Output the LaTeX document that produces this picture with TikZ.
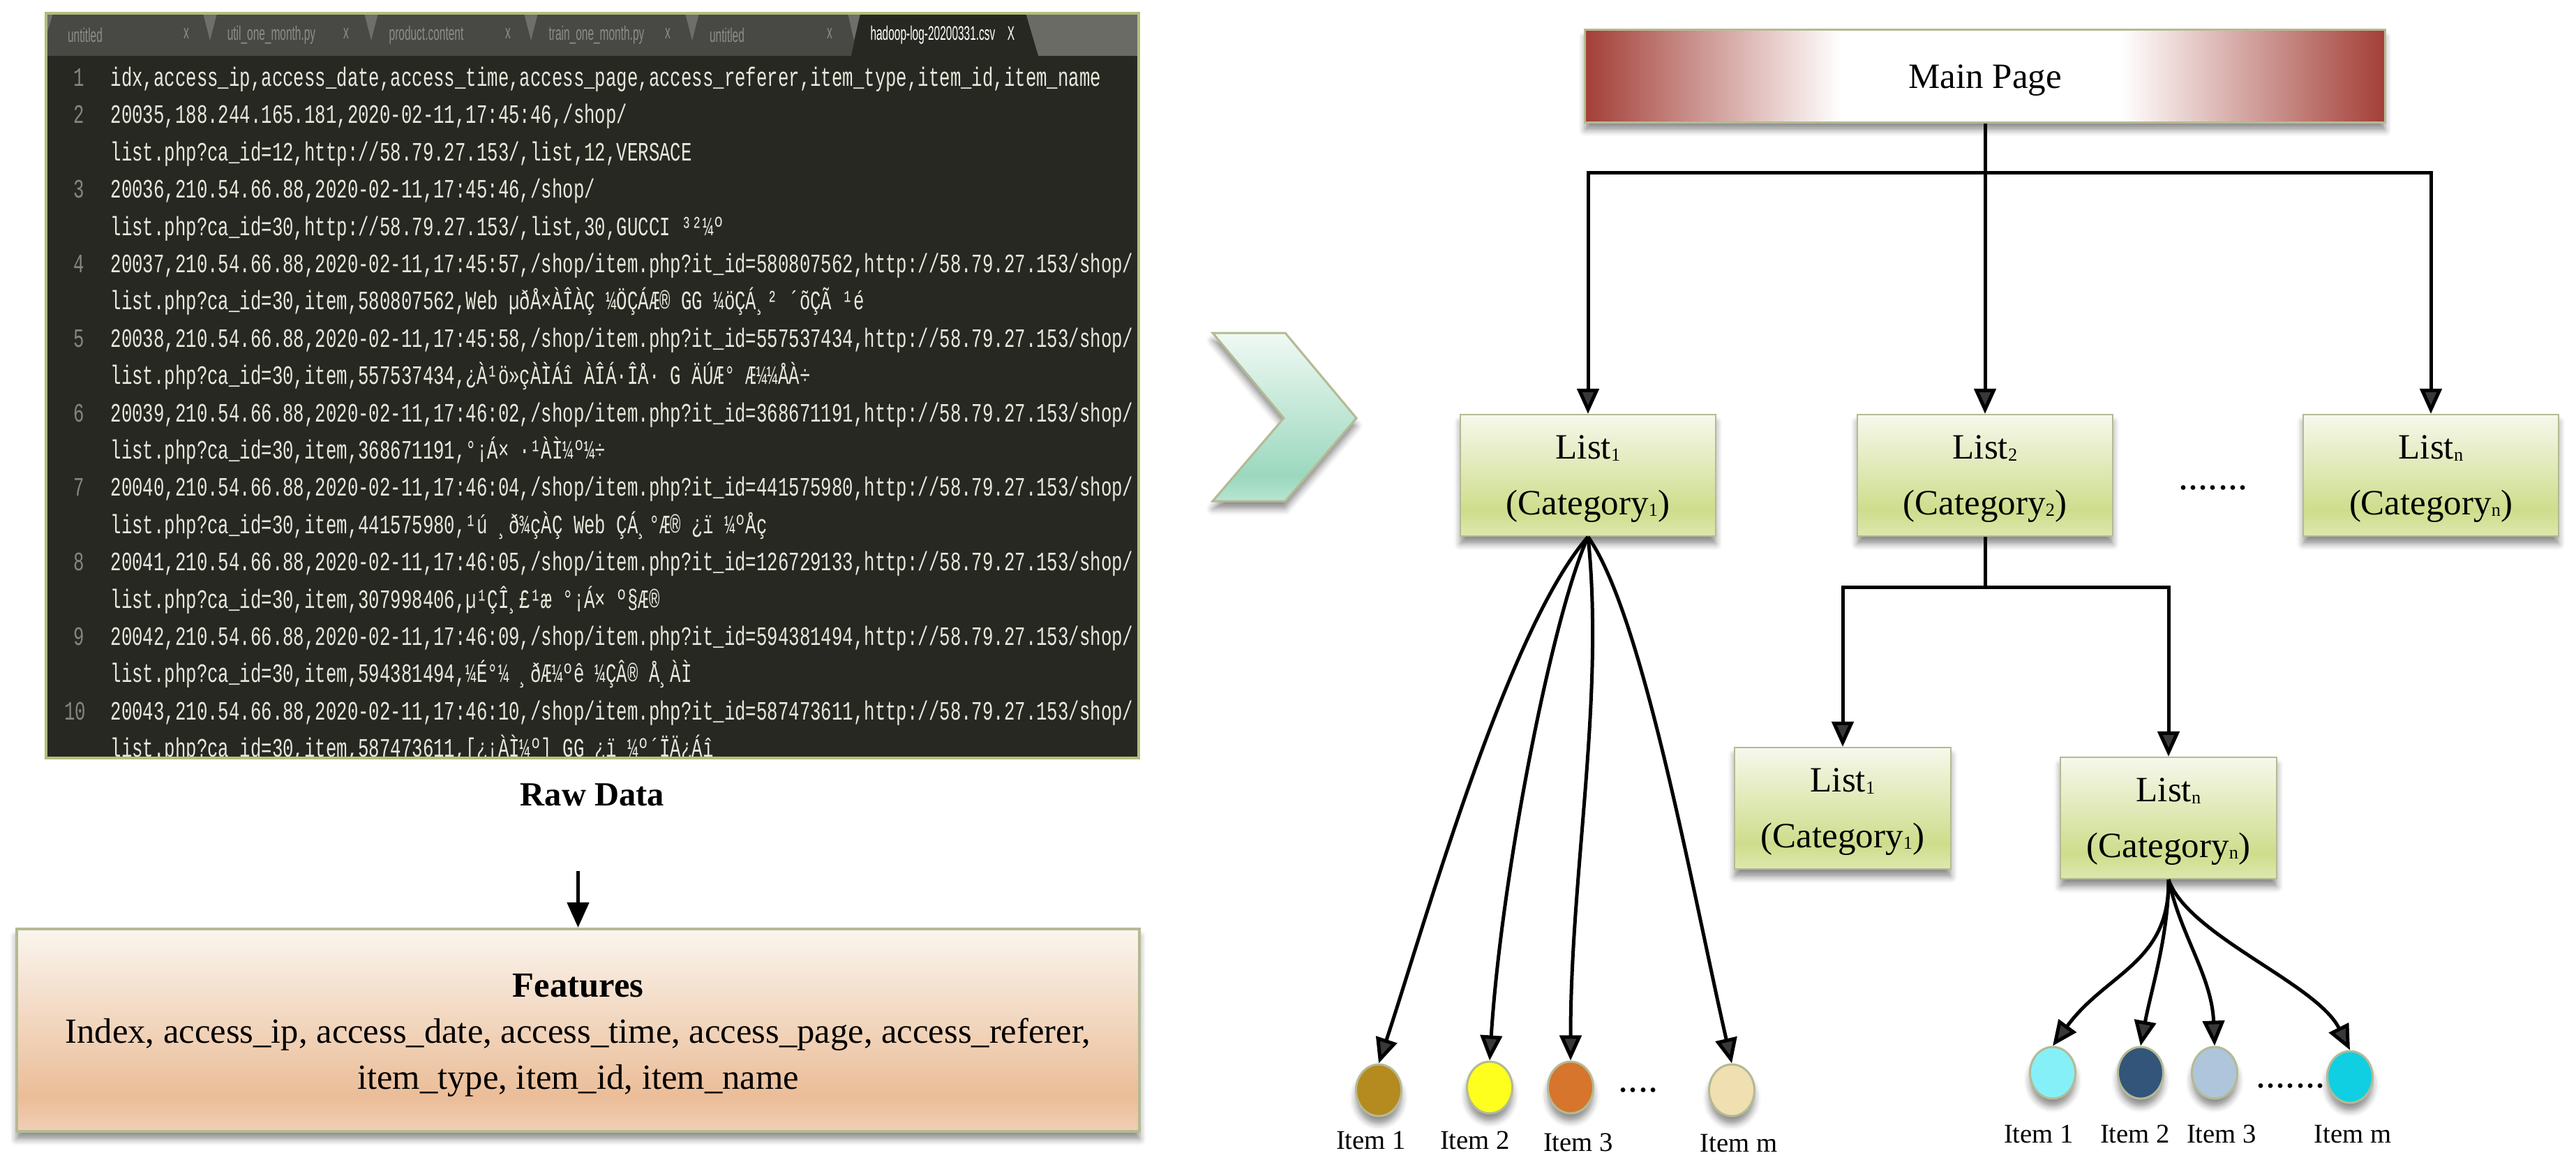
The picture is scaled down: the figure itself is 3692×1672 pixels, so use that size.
\documentclass[tikz,border=0pt]{standalone}
\usepackage{fontspec}
\setmainfont{Liberation Serif}
\newfontfamily\logfont[FakeStretch=0.677]{Liberation Mono}
\newfontfamily\tabfont[FakeStretch=0.55]{Liberation Sans}
\usetikzlibrary{arrows.meta,shapes.geometric,shadows.blur}

\definecolor{edgeolive}{HTML}{B4BA94}
\definecolor{scrframe}{HTML}{B0BD7C}
\definecolor{scrbg}{HTML}{272822}
\definecolor{scrtext}{HTML}{E8E8DC}
\definecolor{scrnum}{HTML}{85867E}
\definecolor{tabgrey}{HTML}{484845}
\definecolor{tabsep}{HTML}{6E6E6A}
\definecolor{tabrest}{HTML}{6B6B66}
\definecolor{tabtext}{HTML}{8E8E88}
\definecolor{itemA}{HTML}{B58A1E}
\definecolor{itemB}{HTML}{FFFF1E}
\definecolor{itemC}{HTML}{D6752B}
\definecolor{itemD}{HTML}{F0DFB0}
\definecolor{itemE}{HTML}{86F0F8}
\definecolor{itemF}{HTML}{33557A}
\definecolor{itemG}{HTML}{AEC5DC}
\definecolor{itemH}{HTML}{10CFE3}
\definecolor{listlow}{HTML}{DDE8AE}
\definecolor{listmid}{HTML}{CEDD8C}
\definecolor{listtop}{HTML}{F6F8EC}
\definecolor{featlow}{HTML}{F0CFB6}
\definecolor{featmid}{HTML}{EBBD98}
\definecolor{feattop}{HTML}{FAF5EE}
\definecolor{chevlow}{HTML}{B8E4D2}
\definecolor{chevmid}{HTML}{9BD8BE}
\definecolor{chevtop}{HTML}{F0F9F4}
\definecolor{mainred}{HTML}{A33F37}

\pgfdeclareverticalshading{listfade}{100bp}{color(0bp)=(listlow); color(25bp)=(listlow); color(35.5bp)=(listmid); color(75bp)=(listtop); color(100bp)=(listtop)}
\pgfdeclareverticalshading{featfade}{100bp}{color(0bp)=(featlow); color(25bp)=(featlow); color(33.5bp)=(featmid); color(75bp)=(feattop); color(100bp)=(feattop)}
\pgfdeclareverticalshading{chevfade}{100bp}{color(0bp)=(chevlow); color(25bp)=(chevlow); color(32.5bp)=(chevmid); color(75bp)=(chevtop); color(100bp)=(chevtop)}
\pgfdeclarehorizontalshading{mainfade}{100bp}{color(0bp)=(mainred); color(25bp)=(mainred); color(41bp)=(white); color(58.5bp)=(white); color(75bp)=(mainred); color(100bp)=(mainred)}

\newcommand{\boxfont}{\fontsize{14.5}{22.5}\selectfont}
\newcommand{\featfont}{\fontsize{14.4}{18.8}\selectfont}
\newcommand{\dropline}[1]{\rule{0pt}{#1}}
\newcommand{\listsub}[1]{\raisebox{-0.6pt}{\fontsize{7.5}{8}\selectfont #1}}

\tikzset{
  softshadow/.style={blur shadow={shadow xshift=0cm, shadow yshift=-0.11cm, shadow blur radius=0.09cm, shadow opacity=45}},
  flow/.style={line width=0.05cm, -{Triangle[length=0.36cm,width=0.31cm]}},
  listbox/.style={draw=edgeolive, line width=0.02cm, shading=listfade, softshadow, align=center, inner sep=0,
    font=\boxfont, minimum width=3.66cm, minimum height=1.74cm},
  sublistbox/.style={listbox, minimum width=3.1cm},
  itemdot/.style={ellipse, draw=edgeolive, line width=0.03cm, inner sep=0, softshadow,
    minimum width=0.65cm, minimum height=0.74cm},
  itemlabel/.style={font=\fontsize{11}{13}\selectfont},
  morelabel/.style={anchor=base, font=\fontsize{16}{18}\selectfont},
  logline/.style={anchor=base west, inner sep=0, text=scrtext, font=\logfont\fontsize{10.8}{12}\selectfont},
  lognum/.style={anchor=base east, inner sep=0, text=scrnum, font=\logfont\fontsize{10.8}{12}\selectfont},
  tablabel/.style={inner sep=0, text=tabtext, font=\tabfont\fontsize{8}{9}\selectfont},
}

\begin{document}
\begin{tikzpicture}[x=0.01cm, y=-0.01cm]

\useasboundingbox (0,0) rectangle (3692,1672);

% screenshot
\fill[scrbg] (66,19) rectangle (1632,1086);
\fill[tabgrey] (66,19) rectangle (1632,80);
\fill[tabrest] (1470,19) -- (1632,19) -- (1632,80) -- (1488,80) -- cycle;
\fill[scrbg] (1233,19) -- (1470,19) -- (1488,80) -- (1220,80) -- cycle;
\foreach \a in {301,532,761,992}
  \fill[tabsep] (\a-10,19) -- (\a+10,19) -- (\a,58) -- cycle;
\fill[tabsep] (66,19) -- (76,19) -- (66,52) -- cycle;
\fill[tabsep] (1215,19) -- (1233,19) -- (1224,58) -- cycle;

\node[tablabel] (tabA) at (122,50) {untitled};
\node[tablabel] (tabB) at (389,50) {util\_one\_month.py};
\node[tablabel] (tabC) at (611,50) {product.content};
\node[tablabel] (tabD) at (855,50) {train\_one\_month.py};
\node[tablabel] (tabE) at (1042,50) {untitled};
\node[tablabel, text=white] (tabF) at (1337,50) {hadoop-log-20200331.csv};
\foreach \a in {267,496,728,957,1189}
  \node[tablabel] at (\a,48) {x};
\node[tablabel, text=white] (tabX) at (1449,48) {X};

\begin{scope}
\clip (66,19) rectangle (1632,1086);
\foreach \n/\a in {1/123,2/176,3/283,4/390,5/497,6/604,7/710,8/817,9/924,10/1031}
  \node[lognum] at (\ifnum\n=10 124\else 122\fi,\a) {\n};
\node[logline] (logA) at (158,123) {idx,access\_ip,access\_date,access\_time,access\_page,access\_referer,item\_type,item\_id,item\_name};
\node[logline] (logB) at (158,176) {20035,188.244.165.181,2020-02-11,17:45:46,/shop/};
\node[logline] (logC) at (158,230) {list.php?ca\_id=12,http://58.79.27.153/,list,12,VERSACE};
\node[logline] (logD) at (158,283) {20036,210.54.66.88,2020-02-11,17:45:46,/shop/};
\node[logline] (logE) at (158,337) {list.php?ca\_id=30,http://58.79.27.153/,list,30,GUCCI ³²¼º};
\node[logline] (logF) at (158,390) {20037,210.54.66.88,2020-02-11,17:45:57,/shop/item.php?it\_id=580807562,http://58.79.27.153/shop/};
\node[logline] (logG) at (158,443) {list.php?ca\_id=30,item,580807562,Web µðÅ×ÀÎÀÇ ¼ÖÇÁÆ® GG ¼öÇÁ¸² ´õÇÃ ¹é};
\node[logline] (logH) at (158,497) {20038,210.54.66.88,2020-02-11,17:45:58,/shop/item.php?it\_id=557537434,http://58.79.27.153/shop/};
\node[logline] (logI) at (158,550) {list.php?ca\_id=30,item,557537434,¿À¹ö»çÀÌÁî ÀÎÁ·ÎÅ· G ÄÚÆ° Æ¼¼ÅÀ÷};
\node[logline] (logJ) at (158,604) {20039,210.54.66.88,2020-02-11,17:46:02,/shop/item.php?it\_id=368671191,http://58.79.27.153/shop/};
\node[logline] (logK) at (158,657) {list.php?ca\_id=30,item,368671191,°¡Á× ·¹ÀÌ¼º¼÷};
\node[logline] (logL) at (158,710) {20040,210.54.66.88,2020-02-11,17:46:04,/shop/item.php?it\_id=441575980,http://58.79.27.153/shop/};
\node[logline] (logM) at (158,764) {list.php?ca\_id=30,item,441575980,¹ú ¸ð¾çÀÇ Web ÇÁ¸°Æ® ¿ï ¼ºÅç};
\node[logline] (logN) at (158,817) {20041,210.54.66.88,2020-02-11,17:46:05,/shop/item.php?it\_id=126729133,http://58.79.27.153/shop/};
\node[logline] (logO) at (158,871) {list.php?ca\_id=30,item,307998406,µ¹ÇÎ¸£¹æ °¡Á× º§Æ®};
\node[logline] (logP) at (158,924) {20042,210.54.66.88,2020-02-11,17:46:09,/shop/item.php?it\_id=594381494,http://58.79.27.153/shop/};
\node[logline] (logQ) at (158,977) {list.php?ca\_id=30,item,594381494,¼É°¼ ¸ðÆ¼ºê ¼ÇÂ® Å¸ÀÌ};
\node[logline] (logR) at (158,1031) {20043,210.54.66.88,2020-02-11,17:46:10,/shop/item.php?it\_id=587473611,http://58.79.27.153/shop/};
\node[logline] (logS) at (158,1084) {list.php?ca\_id=30,item,587473611,[¿¡ÀÌ¼º] GG ¿ï ¼º´ÏÄ¿Áî};
\end{scope}
\draw[scrframe, line width=0.04cm] (66,19) rectangle (1632,1086);

\node[font=\fontsize{13.8}{16}\selectfont\bfseries] (raw) at (849,1139) {Raw Data};
\node[draw=edgeolive, line width=0.04cm, shading=featfade, softshadow, align=center, inner sep=0,
  font=\featfont, minimum width=16.09cm, minimum height=2.9cm] (features) at (828.5,1476)
  {\dropline{13.5pt}\textbf{Features}\\Index, access\_ip, access\_date, access\_time, access\_page, access\_referer,\\item\_type, item\_id, item\_name};

\coordinate (rawarrow) at (828.5,1248);
\draw[flow] (rawarrow) -- (features.north);

% chevron
\path[draw=edgeolive, line width=0.03cm, shading=chevfade, softshadow]
  (1738,477) -- (1842,477) -- (1944,599) -- (1842,718) -- (1738,718) -- (1840,599) -- cycle;

% tree
\node[draw=edgeolive, line width=0.03cm, shading=mainfade, softshadow, font=\boxfont,
  minimum width=11.46cm, minimum height=1.32cm, inner sep=0] (main) at (2845,109) {\dropline{13pt}Main Page};

\node[listbox] (list1) at (2276,681) {\dropline{12.5pt}List\listsub{1}\\(Category\listsub{1})};
\node[listbox] (list2) at (2845,681) {\dropline{12.5pt}List\listsub{2}\\(Category\listsub{2})};
\node[listbox] (listn) at (3484,681) {\dropline{12.5pt}List\listsub{n}\\(Category\listsub{n})};
\node[morelabel] (dotsA) at (3172,701) {.......};

\coordinate (busA) at (2845,247);
\draw[flow] (main.south) -- (list2.north);
\draw[flow] (busA) -| (list1.north);
\draw[flow] (busA) -| (listn.north);

\node[sublistbox] (subA) at (2641,1158) {\dropline{12.5pt}List\listsub{1}\\(Category\listsub{1})};
\node[sublistbox] (subB) at (3108,1172) {\dropline{12.5pt}List\listsub{n}\\(Category\listsub{n})};

\coordinate (busB) at (2845,841);
\draw[line width=0.05cm] (list2.south) -- (busB);
\draw[flow] (busB) -| (subA.north);
\draw[flow] (busB) -| (subB.north);

% items under the first list
\node[itemdot, fill=itemA] (itemA) at (1976,1562) {};
\node[itemdot, fill=itemB] (itemB) at (2135,1558) {};
\node[itemdot, fill=itemC] (itemC) at (2251,1558) {};
\node[itemdot, fill=itemD] (itemD) at (2482,1562) {};
\node[morelabel] (dotsB) at (2348,1564) {....};

\draw[flow] (list1.south) .. controls +(-116,132) and +(64,-193) .. (itemA.north);
\draw[flow] (list1.south) .. controls +(-51,112) and +(17,-267) .. (itemB.north);
\draw[flow] (list1.south) .. controls +(24,232) and +(0,-270) .. (itemC.north);
\draw[flow] (list1.south) .. controls +(79,112) and +(-56,-245) .. (itemD.north);

\node[itemlabel] (nameA) at (1965,1634) {Item 1};
\node[itemlabel] (nameB) at (2114,1634) {Item 2};
\node[itemlabel] (nameC) at (2262,1637) {Item 3};
\node[itemlabel] (nameD) at (2492,1638) {Item m};

% items under the second list
\node[itemdot, fill=itemE] (itemE) at (2942,1537) {};
\node[itemdot, fill=itemF] (itemF) at (3068,1537) {};
\node[itemdot, fill=itemG] (itemG) at (3174,1537) {};
\node[itemdot, fill=itemH] (itemH) at (3368,1543) {};
\node[morelabel] (dotsC) at (3283,1558) {.......};

\draw[flow] (subB.south) .. controls +(2,120) and +(77,-105) .. (itemE.north);
\draw[flow] (subB.south) .. controls +(0,80) and +(15,-80) .. (itemF.north);
\draw[flow] (subB.south) .. controls +(17,80) and +(-4,-100) .. (itemG.north);
\draw[flow] (subB.south) .. controls +(27,80) and +(-48,-96) .. (itemH.north);

\node[itemlabel] (nameE) at (2922,1625) {Item 1};
\node[itemlabel] (nameF) at (3060,1625) {Item 2};
\node[itemlabel] (nameG) at (3184,1625) {Item 3};
\node[itemlabel] (nameH) at (3372,1625) {Item m};

\end{tikzpicture}
\end{document}
